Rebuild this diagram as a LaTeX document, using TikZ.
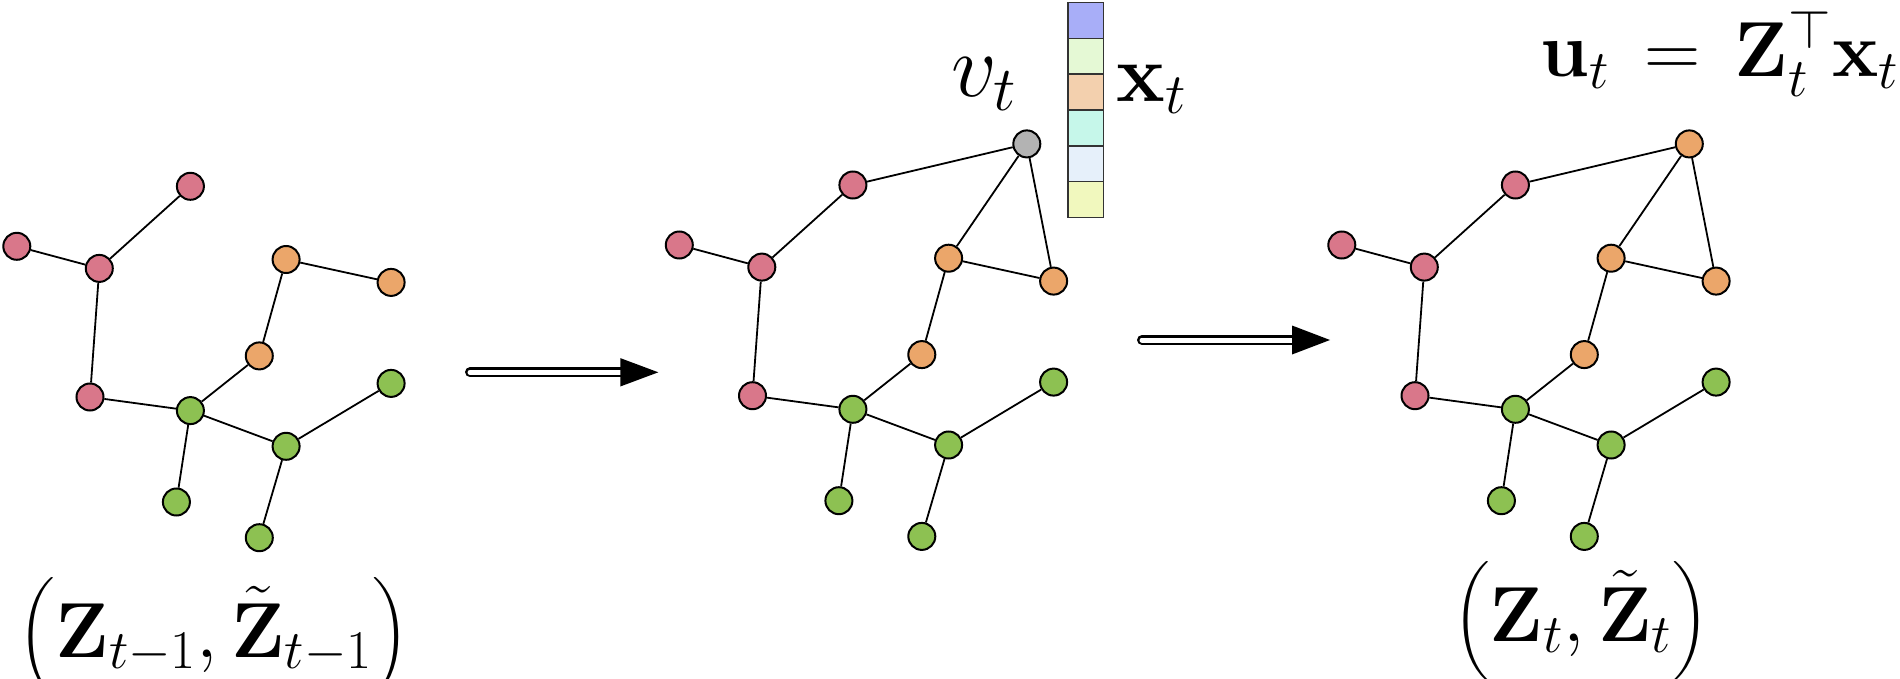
\RequirePackage{fix-cm}
\documentclass[tikz,border=0pt]{standalone}
\usepackage{amsmath}
\definecolor{pinkn}{HTML}{D9778A}
\definecolor{orangen}{HTML}{EBA66A}
\definecolor{greenn}{HTML}{8DC152}
\definecolor{grayn}{HTML}{B3B3B3}
\definecolor{cellA}{HTML}{A8AEF8}
\definecolor{cellB}{HTML}{E5F9D5}
\definecolor{cellC}{HTML}{F3D0AE}
\definecolor{cellD}{HTML}{C6F7EA}
\definecolor{cellE}{HTML}{E6F0FA}
\definecolor{cellF}{HTML}{F1F8BE}
\tikzset{
  gnode/.style={circle, draw=black, line width=1pt, minimum size=13.5pt, inner sep=0pt},
  pk/.style={gnode, fill=pinkn},
  og/.style={gnode, fill=orangen},
  gr/.style={gnode, fill=greenn},
  gy/.style={gnode, fill=grayn},
  gedge/.style={line width=0.9pt},
  cell/.style={draw=black!80, line width=0.8pt, minimum width=17.8pt, minimum height=17.9pt, inner sep=0pt},
  lab/.style={inner sep=0pt, font=\fontsize{39}{46}\selectfont},
  shaft/.style={draw=black, double=white, double distance=2.5pt, line width=1.25pt, line cap=round},
}
\newcommand\basegraph[3]{%
  \begin{scope}[shift={(#2,#3)}]
    \node[pk] (#1A) at (190.4,185) {};
    \node[pk] (#1B) at (16.8,245) {};
    \node[pk] (#1C) at (99.3,267.1) {};
    \node[pk] (#1D) at (90,395.7) {};
    \node[gr] (#1E) at (190.4,409.3) {};
    \node[og] (#1F) at (259.3,354.6) {};
    \node[og] (#1G) at (286.1,258.2) {};
    \node[og] (#1H) at (391.1,281.1) {};
    \node[gr] (#1I) at (391.1,382.1) {};
    \node[gr] (#1J) at (286.1,445) {};
    \node[gr] (#1K) at (176.4,500.7) {};
    \node[gr] (#1L) at (259.3,536.4) {};
  \end{scope}
  \draw[gedge] (#1A) -- (#1C);
  \draw[gedge] (#1B) -- (#1C);
  \draw[gedge] (#1C) -- (#1D);
  \draw[gedge] (#1D) -- (#1E);
  \draw[gedge] (#1E) -- (#1F);
  \draw[gedge] (#1F) -- (#1G);
  \draw[gedge] (#1G) -- (#1H);
  \draw[gedge] (#1E) -- (#1J);
  \draw[gedge] (#1E) -- (#1K);
  \draw[gedge] (#1J) -- (#1I);
  \draw[gedge] (#1J) -- (#1L);
}
\begin{document}
\begin{tikzpicture}[x=0.5pt, y=-0.5pt]
  \useasboundingbox (0,0) rectangle (1900,679);
  % three graphs
  \basegraph{L}{0}{1.3}
  \basegraph{M}{662.5}{0}
  \basegraph{R}{1325}{0}
  % new node v_t
  \node[gy] (MV) at (1026.8,143.9) {};
  \draw[gedge] (MV) -- (MA);
  \draw[gedge] (MV) -- (MG);
  \draw[gedge] (MV) -- (MH);
  \node[og] (RV) at (1689.3,143.9) {};
  \draw[gedge] (RV) -- (RA);
  \draw[gedge] (RV) -- (RG);
  \draw[gedge] (RV) -- (RH);
  % feature vector
  \node[cell, fill=cellA] (c1) at (1085.5,20.6) {};
  \node[cell, fill=cellB] (c2) at (1085.5,56.4) {};
  \node[cell, fill=cellC] (c3) at (1085.5,92.1) {};
  \node[cell, fill=cellD] (c4) at (1085.5,127.9) {};
  \node[cell, fill=cellE] (c5) at (1085.5,163.7) {};
  \node[cell, fill=cellF] (c6) at (1085.5,199.5) {};
  % labels
  \node[lab, anchor=base, font=\fontsize{45}{52}\selectfont] (vt) at (984,97) {$v_t$};
  \node[lab, anchor=base west, font=\fontsize{41}{48}\selectfont] (xt) at (1116,101.5) {$\mathbf{x}_t$};
  \node[lab, anchor=base east] (ut) at (1899,77) {$\mathbf{u}_t \,=\, \mathbf{Z}_t^{\top}\mathbf{x}_t$};
  \node[lab, anchor=base] (l1) at (214,657) {$\left(\mathbf{Z}_{t-1},\tilde{\mathbf{Z}}_{t-1}\right)$};
  \node[lab, anchor=base] (l2) at (1581,641) {$\left(\mathbf{Z}_t,\tilde{\mathbf{Z}}_t\right)$};
  % arrows
  \coordinate (a1s) at (470,372.3);
  \coordinate (a1b) at (621,372.3);
  \coordinate (a1t) at (658.3,372.3);
  \draw[shaft] (a1s) -- (a1b);
  \fill (a1t) -- ++(-38,-14.2) -- ++(0,28.4) -- cycle;
  \coordinate (a2s) at (1142,340);
  \coordinate (a2b) at (1292,340);
  \coordinate (a2t) at (1330,340);
  \draw[shaft] (a2s) -- (a2b);
  \fill (a2t) -- ++(-38,-14.5) -- ++(0,29) -- cycle;
\end{tikzpicture}
\end{document}
